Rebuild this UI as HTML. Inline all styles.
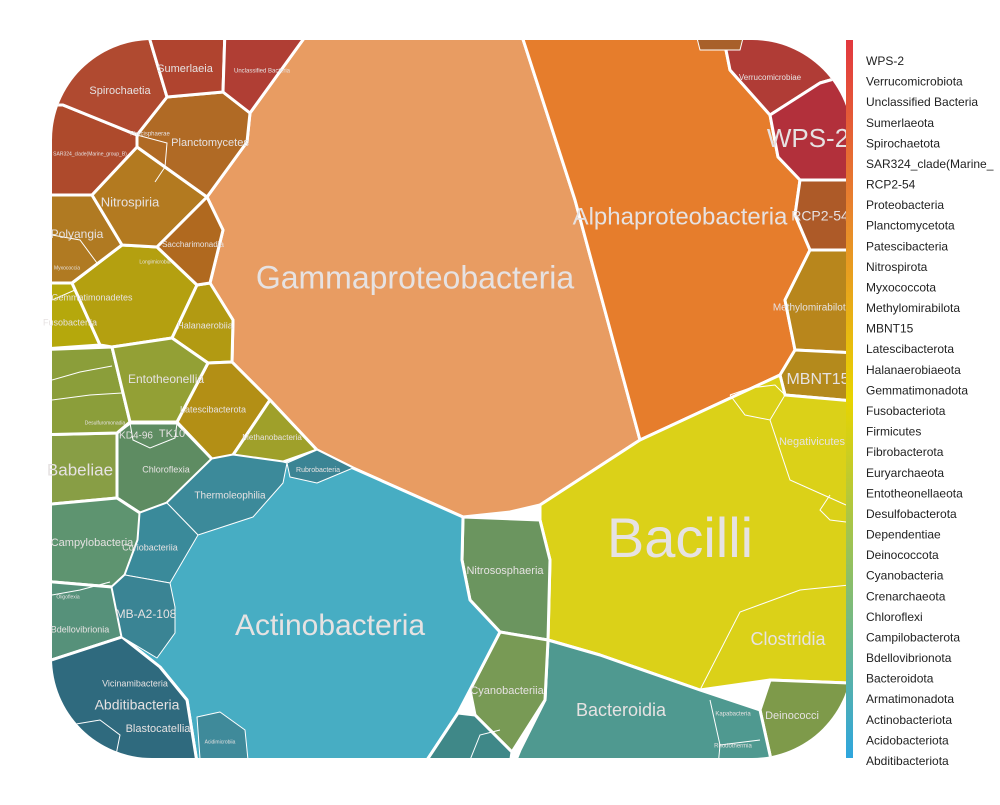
<!DOCTYPE html>
<html><head><meta charset="utf-8"><style>
html,body{margin:0;padding:0;background:#fff;}
svg text{font-family:"Liberation Sans",sans-serif;}
</style></head><body>
<svg id="chart" width="1000" height="800" viewBox="0 0 1000 800">
<defs>
<clipPath id="clip"><rect x="52" y="40" width="800" height="718" rx="100" ry="100"/></clipPath>
<linearGradient id="cbar" x1="0" y1="0" x2="0" y2="1">
<stop offset="0" stop-color="#e2383f"/><stop offset="0.25" stop-color="#e8882c"/>
<stop offset="0.5" stop-color="#e8d400"/><stop offset="0.75" stop-color="#8cbf68"/>
<stop offset="1" stop-color="#2ea6de"/></linearGradient>
</defs>
<g id="cells" clip-path="url(#clip)"></g>
<g id="labels"></g>
<rect x="852" y="30" width="148" height="770" fill="#fff"/>
<rect x="846" y="40" width="7" height="718" fill="url(#cbar)"/>
<g id="legend"></g>
</svg>
<script>
// cells
const cellNames = ["Gammaproteobacteria","Alphaproteobacteria","Verrucomicrobiota","WPS-2","RCP2-54","Methylomirabilota","MBNT15","Firmicutes","Deinococcota","Bacteroidota","Crenarchaeota","Cyanobacteria","Actinobacteriota","Chloroflexi","Dependentiae","Campilobacterota","Bdellovibrionota","Acidobacteriota","Desulfobacterota","Fusobacteriota","Gemmatimonadota","Halanaerobiaeota","Latescibacterota","Euryarchaeota","Entotheonellaeota","Myxococcota","Nitrospirota","Patescibacteria","Planctomycetota","SAR324","Spirochaetota","Sumerlaeota","Unclassified Bacteria","Thermoleophilia","Rubrobacteria","Coriobacteriia","MB-A2-108","Acidimicrobiia","Small Bacteroidota","Small Verrucomicrobiota"];
const cellColors = ["#e89c62","#e67d2c","#b03c36","#b2303b","#ad5a28","#b8861c","#b48a1c","#dbd118","#7e9a4a","#4f9990","#6b955f","#789a55","#47adc3","#5e8c62","#889e45","#5e9470","#56917a","#2f6a7e","#8b9e3a","#b5a80c","#b4a010","#b29a12","#b38f15","#9fa02a","#93a035","#b07a22","#b37a20","#b0691f","#b06a25","#ae4a2c","#b04a30","#b0442f","#b03e34","#3c8a9a","#3b8494","#3a8a9a","#3a8494","#3f8a9a","#3f8888","#a8602a"];
const cellPolys = [
"310,30 520,30 575,200 640,440 540,505 510,512 463,517 353,468 317,450 270,400 232,362 233,320 210,283 223,230 207,197 247,142 250,113",
"520,30 722,30 730,70 770,115 778,157 800,180 795,215 810,250 785,300 795,350 780,375 640,440 575,200",
"722,30 900,30 900,60 820,83 770,115 730,70",
"770,115 820,83 900,60 900,180 800,180 778,157",
"800,180 900,180 900,250 810,250 795,215",
"810,250 900,250 900,355 795,350 785,300",
"795,350 900,355 900,405 785,395 780,375",
"540,505 640,440 780,375 785,395 900,405 900,685 770,680 700,690 600,655 548,640 550,560 540,520",
"770,680 900,685 900,800 780,800 760,710",
"548,640 600,655 700,690 760,710 780,800 500,800 520,750 545,700",
"463,517 540,520 550,560 548,640 500,632 470,600 462,560",
"500,632 548,640 545,700 512,752 475,715 470,690",
"212,459 233,455 283,462 317,450 353,468 463,517 462,560 470,600 500,632 470,690 458,713 427,760 420,800 203,800 187,700 160,667 122,637 112,587 125,575 138,540 140,513 167,503",
"117,433 130,423 177,423 212,459 167,503 140,513 117,498",
"30,435 117,433 117,498 30,506",
"30,506 117,498 140,513 138,540 125,575 112,587 30,580",
"30,580 112,587 122,637 30,667",
"30,667 122,637 160,667 187,700 203,800 30,800",
"30,350 112,347 130,422 117,433 30,435",
"30,283 72,283 100,345 30,350",
"72,283 122,245 157,247 197,285 172,338 112,347 100,345",
"197,285 210,283 233,320 232,362 208,363 172,338",
"208,363 232,362 270,400 233,455 212,459 177,422",
"233,455 270,400 317,450 283,462",
"112,347 172,338 208,363 177,422 130,422",
"30,195 92,195 122,245 72,283 30,283",
"92,195 137,147 207,197 157,247 122,245",
"157,247 207,197 223,230 210,283 197,285",
"137,147 137,135 167,97 223,92 250,113 247,142 207,197",
"30,105 63,105 137,135 137,147 92,195 30,195",
"30,30 147,30 167,97 137,135 63,105 30,105",
"147,30 225,30 223,92 167,97",
"225,30 310,30 250,113 223,92",
"212,459 233,455 283,462 287,463 283,483 253,517 198,535 167,503",
"287,463 317,450 353,468 317,483 290,477",
"167,503 198,535 170,583 125,575 138,540 140,513",
"125,575 170,583 175,607 175,633 157,658 122,637 112,587",
"197,717 220,712 245,730 252,800 203,800",
"458,713 475,715 512,752 505,800 420,800 427,760",
"695,30 745,30 740,50 700,50"];
const cellStroke = [3,3,3,3,3,3,3,3,3,3,3,3,3,3,3,3,3,3,3,3,3,3,3,3,3,3,3,3,3,3,3,3,3,1,1,1,1,1,3,1];
// sub-cell boundaries (thin lines)
const subLines = [
"700,690 740,612 800,590 900,580",
"730,395 750,388 775,385 785,395",
"730,395 745,415 770,420 785,395",
"770,420 790,480 846,505",
"830,495 820,510 830,520 846,522",
"710,700 720,745 715,800","720,745 760,740",
"52,300 75,290","52,380 80,372 112,366","52,400 90,395 122,393",
"52,235 80,240 97,263","137,135 167,143 165,167 155,182","70,725 100,720 120,735 115,760",
"130,423 133,440 150,448 175,438 177,423","52,595 80,590 110,582","470,760 480,735 500,730"];
const labelText = ["Gammaproteobacteria","Alphaproteobacteria","Bacilli","Actinobacteria","WPS-2","Clostridia","Bacteroidia","Nitrososphaeria","Cyanobacteriia","Deinococci","Negativicutes","MBNT15","Methylomirabilota","RCP2-54","Verrucomicrobiae","Sumerlaeia","Spirochaetia","Unclassified Bacteria","Planctomycetes","Nitrospiria","Polyangia","Saccharimonadia","Gemmatimonadetes","Halanaerobiia","Entotheonellia","Latescibacterota","Methanobacteria","Babeliae","Campylobacteria","Bdellovibrionia","MB-A2-108","Abditibacteria","Blastocatellia","Vicinamibacteria","Thermoleophilia","Chloroflexia","KD4-96","TK10","Coriobacteriia","Rubrobacteria","Acidimicrobiia","Longimicrobia","SAR324_clade(Marine_group_B)","Phycisphaerae","Desulfuromonadia","Fusobacteriia","Myxococcia","Oligoflexia","Kapabacteria","Rhodothermia"];
const labelX = [415,680,680,330,808,788,621,505,507,792,812,818,812,820,770,185,120,262,210,130,77,193,92,205,166,213,272,80,92,80,146,137,158,135,230,166,136,172,150,318,220,155,90,150,105,70,67,68,733,733];
const labelY = [280,218,542,627,140,640,711,571,691,716,442,380,308,217,78,69,91,71,143,203,235,245,298,326,380,410,438,471,543,630,615,706,729,684,496,470,436,434,548,470,742,262,154,134,423,323,268,597,714,746];
const labelSize = [32,24,56,30,26,18,18,11,11,11,11,16,10,14,8,11,11,6,11,13,12,8,9,9,12,9,8,17,11,9,12,14,11,9,10,9,10,11,9,7,5,5,5,6,5,9,5,5,6,6];
const legendLabels = ["WPS-2","Verrucomicrobiota","Unclassified Bacteria","Sumerlaeota","Spirochaetota","SAR324_clade(Marine_","RCP2-54","Proteobacteria","Planctomycetota","Patescibacteria","Nitrospirota","Myxococcota","Methylomirabilota","MBNT15","Latescibacterota","Halanaerobiaeota","Gemmatimonadota","Fusobacteriota","Firmicutes","Fibrobacterota","Euryarchaeota","Entotheonellaeota","Desulfobacterota","Dependentiae","Deinococcota","Cyanobacteria","Crenarchaeota","Chloroflexi","Campilobacterota","Bdellovibrionota","Bacteroidota","Armatimonadota","Actinobacteriota","Acidobacteriota","Abditibacteriota"];

const NS="http://www.w3.org/2000/svg";
const cg=document.getElementById('cells');
cellNames.forEach((n,i)=>{
  const p=document.createElementNS(NS,'polygon');
  p.setAttribute('points',cellPolys[i]);
  p.setAttribute('fill',cellColors[i]);
  p.setAttribute('stroke','#fff');p.setAttribute('stroke-width',cellStroke[i]);p.setAttribute('stroke-linejoin','round');
  
  
  cg.appendChild(p);
});
subLines.forEach((s,i)=>{
  const l=document.createElementNS(NS,'polyline');
  l.setAttribute('points',s);l.setAttribute('fill','none');
  l.setAttribute('stroke','#fff');l.setAttribute('stroke-width','1');
  
  
  cg.appendChild(l);
});
const lg=document.getElementById('labels');
labelText.forEach((t,i)=>{
  const e=document.createElementNS(NS,'text');
  e.setAttribute('x',labelX[i]);e.setAttribute('y',labelY[i]);
  e.setAttribute('font-size',labelSize[i]);e.setAttribute('fill','#e6e2e2');
  e.setAttribute('text-anchor','middle');e.setAttribute('dominant-baseline','middle');
  e.textContent=t;
  
  
  lg.appendChild(e);
});
const leg=document.getElementById('legend');
legendLabels.forEach((t,i)=>{
  const e=document.createElementNS(NS,'text');
  e.setAttribute('x',866);e.setAttribute('y',61+i*700/(legendLabels.length-1)+4);
  e.setAttribute('font-size','12');e.setAttribute('fill','#222');
  e.textContent=t;
  
  
  leg.appendChild(e);
});
</script>
</body></html>
